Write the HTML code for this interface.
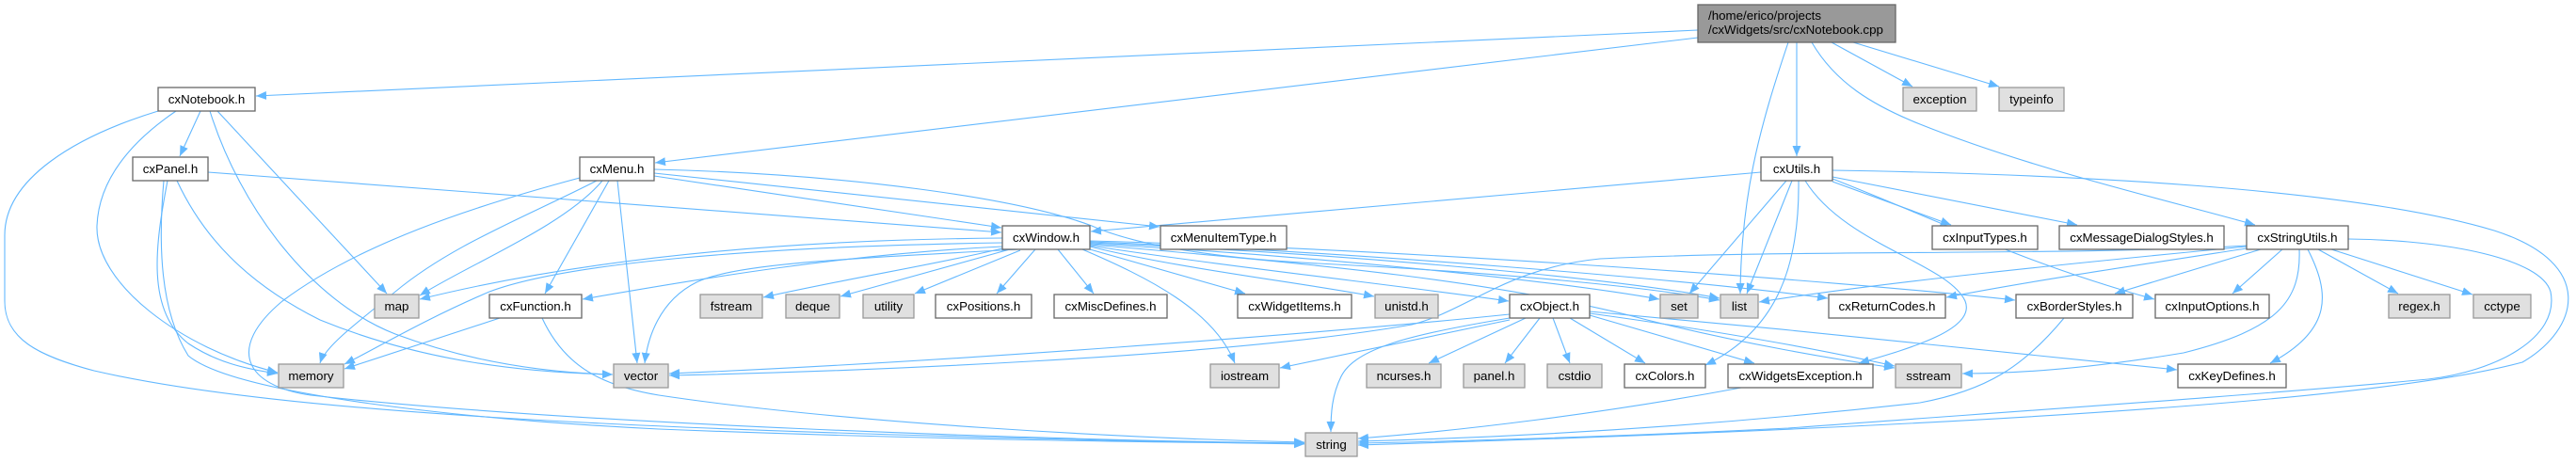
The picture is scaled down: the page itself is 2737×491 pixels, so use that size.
<!DOCTYPE html>
<html><head><meta charset="utf-8"><style>
html,body{margin:0;padding:0;background:#fff;}
svg{display:block;}
text{font-family:"Liberation Sans",Arial,sans-serif;font-size:13.33px;fill:#000;}
.w{fill:#fff;stroke:#666;stroke-width:1.3;}
.g{fill:#e0e0e0;stroke:#999;stroke-width:1.3;}
.e{fill:none;stroke:#63b8ff;stroke-width:1.1;marker-end:url(#a);}
</style></head><body>
<svg width="2737" height="491" viewBox="0 0 2737 491" xmlns="http://www.w3.org/2000/svg">
<defs><marker id="a" markerUnits="userSpaceOnUse" markerWidth="12" markerHeight="10" refX="11" refY="4.5" orient="auto"><path d="M0,0 L11,4.5 L0,9 z" fill="#63b8ff"/></marker></defs>
<g>
<path class="e" d="M1804,32 L272,102"/>
<path class="e" d="M1804,40 L696,173"/>
<path class="e" d="M1900,45 C1868,140 1850,210 1849,312"/>
<path class="e" d="M1909,45 L1909,166"/>
<path class="e" d="M1925,45 C1950,88 1990,112 2040,132 C2160,180 2300,212 2396,239"/>
<path class="e" d="M1946,45 L2032,92"/>
<path class="e" d="M1969,45 L2124,92"/>
<path class="e" d="M213,118 L191,166"/>
<path class="e" d="M168,118 C80,145 5,190 5,250 L5,320 C5,360 40,378 100,394 C300,440 700,460 1386,472"/>
<path class="e" d="M187,118 C140,150 105,190 103,240 C101,300 190,370 295,396"/>
<path class="e" d="M223,118 C255,220 330,320 420,355 C500,385 580,396 651,398"/>
<path class="e" d="M231,118 L411,312"/>
<path class="e" d="M221,183 L1064,247"/>
<path class="e" d="M178,192 C165,260 155,330 200,365 C230,385 260,392 295,397"/>
<path class="e" d="M174,192 C168,260 170,330 200,378 C250,420 500,446 700,456 C1000,468 1300,471 1386,471"/>
<path class="e" d="M188,192 C215,250 260,300 340,340 C450,385 560,396 651,398"/>
<path class="e" d="M695,187 L1064,242"/>
<path class="e" d="M695,184 L1232,241"/>
<path class="e" d="M695,180 C900,185 1080,210 1160,240 C1210,262 1300,275 1400,280 C1600,290 1750,305 1827,319"/>
<path class="e" d="M640,192 C600,240 500,280 446,314"/>
<path class="e" d="M634,192 C560,230 480,260 420,310 C370,350 345,370 340,386"/>
<path class="e" d="M616,189 C500,220 380,260 300,320 C240,370 260,410 330,420 C600,450 1100,468 1386,471"/>
<path class="e" d="M647,192 L579,312"/>
<path class="e" d="M656,192 L677,386"/>
<path class="e" d="M531,338 L366,392"/>
<path class="e" d="M576,338 C600,390 640,410 700,420 C900,450 1200,466 1386,470"/>
<path class="e" d="M1065,253 C800,255 600,280 446,318"/>
<path class="e" d="M1065,258 C800,262 600,280 520,310 C450,340 400,370 366,387"/>
<path class="e" d="M1065,262 C900,270 750,295 619,318"/>
<path class="e" d="M1082,265 C900,275 780,280 740,300 C700,320 688,360 685,386"/>
<path class="e" d="M1065,264 C1000,280 900,296 811,316"/>
<path class="e" d="M1073,265 L893,315"/>
<path class="e" d="M1084,266 L972,312"/>
<path class="e" d="M1100,265 L1059,312"/>
<path class="e" d="M1124,265 L1162,312"/>
<path class="e" d="M1150,265 C1220,295 1290,330 1312,386"/>
<path class="e" d="M1158,265 L1323,312"/>
<path class="e" d="M1158,262 C1250,285 1380,300 1460,315"/>
<path class="e" d="M1158,261 C1300,283 1500,305 1603,320"/>
<path class="e" d="M1158,259 C1400,272 1650,298 1763,318"/>
<path class="e" d="M1158,258 C1400,268 1700,293 1827,317"/>
<path class="e" d="M1158,257 C1450,268 1800,298 1942,317"/>
<path class="e" d="M1158,256 C1500,265 1950,298 2141,319"/>
<path class="e" d="M1158,260 C1400,280 1600,300 1750,340 C1850,365 1950,382 2013,391"/>
<path class="e" d="M1871,183 L1159,246"/>
<path class="e" d="M1898,192 L1795,312"/>
<path class="e" d="M1904,192 L1856,312"/>
<path class="e" d="M1911,192 C1912,280 1890,350 1812,388"/>
<path class="e" d="M1918,192 C1960,260 2070,280 2088,320 C2100,350 2030,370 1975,386"/>
<path class="e" d="M1947,193 L2073,239"/>
<path class="e" d="M1947,188 L2207,239"/>
<path class="e" d="M1947,190 C2050,230 2150,280 2289,318"/>
<path class="e" d="M1947,181 C2200,185 2500,200 2650,245 C2760,280 2740,350 2680,385 C2550,420 2200,450 1443,473"/>
<path class="e" d="M2443,265 C2445,320 2420,350 2320,375 C2200,395 2120,397 2085,397"/>
<path class="e" d="M2452,265 C2475,310 2480,350 2412,386"/>
<path class="e" d="M2463,265 L2548,312"/>
<path class="e" d="M2477,265 L2627,313"/>
<path class="e" d="M2425,265 L2372,312"/>
<path class="e" d="M2402,265 L2247,312"/>
<path class="e" d="M2495,254 C2600,255 2700,275 2710,310 C2720,360 2650,395 2580,403 C2400,420 2100,440 1900,455 C1700,465 1500,470 1443,471"/>
<path class="e" d="M2387,264 C2250,285 2150,300 2068,316"/>
<path class="e" d="M2387,262 C2200,280 2000,300 1869,321"/>
<path class="e" d="M2387,261 C2200,272 1900,265 1700,275 C1600,285 1560,330 1500,345 C1300,380 900,395 711,399"/>
<path class="e" d="M1621,338 L1518,386"/>
<path class="e" d="M1636,338 L1599,386"/>
<path class="e" d="M1650,338 L1668,386"/>
<path class="e" d="M1668,338 L1748,386"/>
<path class="e" d="M1689,335 L1864,386"/>
<path class="e" d="M1689,333 C1850,355 1950,375 2013,389"/>
<path class="e" d="M1689,331 C1900,350 2150,375 2313,393"/>
<path class="e" d="M1604,338 C1500,355 1440,370 1425,400 C1415,420 1414,440 1414,459"/>
<path class="e" d="M1604,340 L1360,391"/>
<path class="e" d="M1604,334 C1400,355 1000,385 711,397"/>
<path class="e" d="M1850,412 C1700,440 1550,458 1443,466"/>
<path class="e" d="M2193,338 C2150,390 2110,415 2040,428 C1800,455 1600,465 1443,469"/>
</g>
<g>
<rect x="1804" y="5" width="210" height="40" fill="#999" stroke="#666" stroke-width="1.3"/>
<text x="1815" y="21">/home/erico/projects</text>
<text x="1815" y="36">/cxWidgets/src/cxNotebook.cpp</text>

<rect class="w" x="168" y="93" width="103" height="25"/><text x="219.5" y="110" text-anchor="middle">cxNotebook.h</text>
<rect class="g" x="2022" y="93" width="78" height="25"/><text x="2061" y="110" text-anchor="middle">exception</text>
<rect class="g" x="2124" y="93" width="69" height="25"/><text x="2158.5" y="110" text-anchor="middle">typeinfo</text>

<rect class="w" x="141" y="167" width="80" height="25"/><text x="181" y="184" text-anchor="middle">cxPanel.h</text>
<rect class="w" x="616" y="167" width="79" height="25"/><text x="655.5" y="184" text-anchor="middle">cxMenu.h</text>
<rect class="w" x="1871" y="167" width="76" height="25"/><text x="1909" y="184" text-anchor="middle">cxUtils.h</text>

<rect class="w" x="1065" y="240" width="93" height="25"/><text x="1111.5" y="257" text-anchor="middle">cxWindow.h</text>
<rect class="w" x="1233" y="240" width="134" height="25"/><text x="1300" y="257" text-anchor="middle">cxMenuItemType.h</text>
<rect class="w" x="2053" y="240" width="112" height="25"/><text x="2109" y="257" text-anchor="middle">cxInputTypes.h</text>
<rect class="w" x="2188" y="240" width="175" height="25"/><text x="2275.5" y="257" text-anchor="middle">cxMessageDialogStyles.h</text>
<rect class="w" x="2387" y="240" width="108" height="25"/><text x="2441" y="257" text-anchor="middle">cxStringUtils.h</text>

<rect class="g" x="398" y="313" width="47" height="25"/><text x="421.5" y="330" text-anchor="middle">map</text>
<rect class="w" x="520" y="313" width="98" height="25"/><text x="569" y="330" text-anchor="middle">cxFunction.h</text>
<rect class="g" x="744" y="313" width="66" height="25"/><text x="777" y="330" text-anchor="middle">fstream</text>
<rect class="g" x="835" y="313" width="57" height="25"/><text x="863.5" y="330" text-anchor="middle">deque</text>
<rect class="g" x="917" y="313" width="54" height="25"/><text x="944" y="330" text-anchor="middle">utility</text>
<rect class="w" x="994" y="313" width="102" height="25"/><text x="1045" y="330" text-anchor="middle">cxPositions.h</text>
<rect class="w" x="1120" y="313" width="120" height="25"/><text x="1180" y="330" text-anchor="middle">cxMiscDefines.h</text>
<rect class="w" x="1315" y="313" width="121" height="25"/><text x="1375.5" y="330" text-anchor="middle">cxWidgetItems.h</text>
<rect class="g" x="1461" y="313" width="67" height="25"/><text x="1494.5" y="330" text-anchor="middle">unistd.h</text>
<rect class="w" x="1604" y="313" width="85" height="25"/><text x="1646.5" y="330" text-anchor="middle">cxObject.h</text>
<rect class="g" x="1764" y="313" width="40" height="25"/><text x="1784" y="330" text-anchor="middle">set</text>
<rect class="g" x="1828" y="313" width="40" height="25"/><text x="1848" y="330" text-anchor="middle">list</text>
<rect class="w" x="1943" y="313" width="124" height="25"/><text x="2005" y="330" text-anchor="middle">cxReturnCodes.h</text>
<rect class="w" x="2142" y="313" width="124" height="25"/><text x="2204" y="330" text-anchor="middle">cxBorderStyles.h</text>
<rect class="w" x="2290" y="313" width="121" height="25"/><text x="2350.5" y="330" text-anchor="middle">cxInputOptions.h</text>
<rect class="g" x="2538" y="313" width="65" height="25"/><text x="2570.5" y="330" text-anchor="middle">regex.h</text>
<rect class="g" x="2628" y="313" width="61" height="25"/><text x="2658.5" y="330" text-anchor="middle">cctype</text>

<rect class="g" x="296" y="387" width="69" height="25"/><text x="330.5" y="404" text-anchor="middle">memory</text>
<rect class="g" x="652" y="387" width="58" height="25"/><text x="681" y="404" text-anchor="middle">vector</text>
<rect class="g" x="1286" y="387" width="73" height="25"/><text x="1322.5" y="404" text-anchor="middle">iostream</text>
<rect class="g" x="1452" y="387" width="79" height="25"/><text x="1491.5" y="404" text-anchor="middle">ncurses.h</text>
<rect class="g" x="1555" y="387" width="65" height="25"/><text x="1587.5" y="404" text-anchor="middle">panel.h</text>
<rect class="g" x="1644" y="387" width="58" height="25"/><text x="1673" y="404" text-anchor="middle">cstdio</text>
<rect class="w" x="1726" y="387" width="86" height="25"/><text x="1769" y="404" text-anchor="middle">cxColors.h</text>
<rect class="w" x="1836" y="387" width="154" height="25"/><text x="1913" y="404" text-anchor="middle">cxWidgetsException.h</text>
<rect class="g" x="2014" y="387" width="70" height="25"/><text x="2049" y="404" text-anchor="middle">sstream</text>
<rect class="w" x="2314" y="387" width="115" height="25"/><text x="2371.5" y="404" text-anchor="middle">cxKeyDefines.h</text>

<rect class="g" x="1387" y="460" width="55" height="25"/><text x="1414.5" y="477" text-anchor="middle">string</text>
</g>
</svg>
</body></html>
